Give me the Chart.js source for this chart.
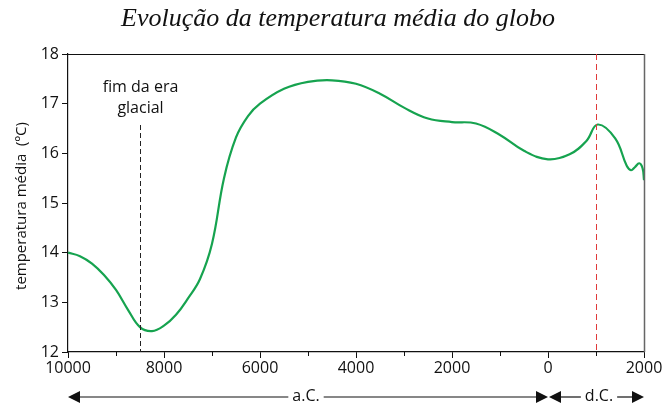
<!DOCTYPE html>
<html>
<head>
<meta charset="utf-8">
<script src="https://cdn.jsdelivr.net/npm/chart.js@4.4.1/dist/chart.umd.min.js"></script>
<style>
  body { margin: 0; background: #fff; }
  #wrap { width: 664px; height: 407px; }
</style>
</head>
<body>
<div id="wrap"><canvas id="myChart" width="664" height="407"></canvas></div>
<script>
// anos (negativo = a.C.) e temperatura media (ºC)
const years = [-10000, -9750, -9500, -9250, -9000, -8750, -8500, -8250, -8000, -7750, -7500, -7250, -7000, -6750, -6500, -6250, -6000, -5500, -5000, -4500, -4000, -3500, -3000, -2500, -2000, -1500, -1000, -500, 0, 450, 800, 1035, 1400, 1640, 1730, 1810, 1900, 1970, 2000];
const temps = [14.0, 13.93, 13.78, 13.55, 13.25, 12.85, 12.5, 12.42, 12.53, 12.75, 13.08, 13.47, 14.18, 15.5, 16.32, 16.75, 17.0, 17.3, 17.44, 17.47, 17.4, 17.2, 16.92, 16.7, 16.63, 16.6, 16.37, 16.05, 15.88, 15.98, 16.25, 16.58, 16.3, 15.75, 15.66, 15.72, 15.8, 15.7, 15.46];
const yTicks = [12, 13, 14, 15, 16, 17, 18];
const xTicks = [-10000, -8000, -6000, -4000, -2000, 0, 2000];
const xMinorTicks = [-9000, -7000, -5000, -3000, -1000, 1000];

const titleText = 'Evolução da temperatura média do globo';
const yTitle = 'temperatura média  (ºC)';
const glacialYear = -8500;
const redLineYear = 1000;

const sans = "'Open Sans', 'Noto Sans', sans-serif";

// desenha titulo, linhas tracejadas, moldura e setas
const extras = {
    id: 'extras',
    afterDraw(chart) {
        const ctx = chart.ctx;
        const x = chart.scales.x;
        const a = chart.chartArea;
        ctx.save();

        // titulo
        ctx.fillStyle = '#111';
        ctx.font = "italic 26px 'Liberation Serif', 'DejaVu Serif', serif";
        ctx.textAlign = 'center';
        ctx.textBaseline = 'middle';
        ctx.fillText(titleText, 338, 19);

        // titulo eixo y
        ctx.save();
        ctx.translate(22, 206);
        ctx.rotate(-Math.PI / 2);
        ctx.font = '15px ' + sans;
        ctx.fillText(yTitle, 0, 0);
        ctx.restore();

        // moldura topo e direita
        ctx.strokeStyle = '#111';
        ctx.lineWidth = 1;
        ctx.beginPath();
        ctx.moveTo(a.left, a.top + 0.5);
        ctx.lineTo(a.right, a.top + 0.5);
        ctx.stroke();
        ctx.strokeStyle = '#666';
        ctx.lineWidth = 1.5;
        ctx.beginPath();
        ctx.moveTo(a.right + 0.5, a.top);
        ctx.lineTo(a.right + 0.5, a.bottom);
        ctx.stroke();

        // ticks menores
        ctx.strokeStyle = '#111';
        ctx.lineWidth = 1;
        xMinorTicks.forEach(v => {
            const px = Math.round(x.getPixelForValue(v)) + 0.5;
            ctx.beginPath();
            ctx.moveTo(px, a.bottom);
            ctx.lineTo(px, a.bottom + 4);
            ctx.stroke();
        });

        // fim da era glacial
        const gx = Math.round(x.getPixelForValue(glacialYear)) + 0.5;
        ctx.setLineDash([5, 3]);
        ctx.strokeStyle = '#222';
        ctx.beginPath();
        ctx.moveTo(gx, 125);
        ctx.lineTo(gx, a.bottom);
        ctx.stroke();
        ctx.font = '16px ' + sans;
        ctx.fillStyle = '#111';
        ctx.fillText('fim da era', gx, 87);
        ctx.fillText('glacial', gx, 108);

        // linha vermelha
        const rx = Math.round(x.getPixelForValue(redLineYear)) + 0.5;
        ctx.setLineDash([6, 4]);
        ctx.strokeStyle = '#e03a3a';
        ctx.beginPath();
        ctx.moveTo(rx, a.top);
        ctx.lineTo(rx, a.bottom);
        ctx.stroke();
        ctx.setLineDash([]);

        // setas a.C. / d.C.
        const ay = 397;
        const x0 = x.getPixelForValue(-10000);
        const xz = x.getPixelForValue(0);
        const x2 = x.getPixelForValue(2000);
        ctx.strokeStyle = '#111';
        ctx.lineWidth = 1.2;
        function seg(p, q) {
            ctx.beginPath();
            ctx.moveTo(p, ay);
            ctx.lineTo(q, ay);
            ctx.stroke();
        }
        function head(tip, dir) {
            ctx.beginPath();
            ctx.moveTo(tip, ay);
            ctx.lineTo(tip + dir * 12, ay - 6);
            ctx.lineTo(tip + dir * 12, ay + 6);
            ctx.closePath();
            ctx.fill();
        }
        ctx.font = '16px ' + sans;
        const acX = 306;
        const acW = ctx.measureText('a.C.').width;
        seg(x0 + 10, acX - acW / 2 - 4);
        seg(acX + acW / 2 + 4, xz - 10);
        head(x0, 1);
        head(xz, -1);
        ctx.fillText('a.C.', acX, ay - 1);
        const dcX = 599;
        const dcW = ctx.measureText('d.C.').width;
        head(xz + 1, 1);
        head(x2, -1);
        seg(xz + 10, dcX - dcW / 2 - 4);
        seg(dcX + dcW / 2 + 4, x2 - 10);
        ctx.fillText('d.C.', dcX, ay - 1);

        ctx.restore();
    }
};

const ctx = document.getElementById('myChart').getContext('2d');
new Chart(ctx, {
    type: 'line',
    data: {
        datasets: [{
            data: years.map((yr, i) => ({ x: yr, y: temps[i] })),
            borderColor: '#16a34f',
            borderWidth: 2.2,
            pointRadius: 0,
            tension: 0.4,
            fill: false
        }]
    },
    options: {
        responsive: false,
        animation: false,
        events: [],
        layout: { padding: { top: 54, right: 20, left: 0, bottom: 0 } },
        plugins: { legend: { display: false }, tooltip: { enabled: false }, title: { display: false } },
        scales: {
            x: {
                type: 'linear',
                min: -10000,
                max: 2000,
                afterFit: s => { s.height = 55; },
                afterBuildTicks: s => { s.ticks = xTicks.map(v => ({ value: v })); },
                border: { color: '#111', width: 1.2 },
                grid: { drawOnChartArea: false, color: '#111', tickLength: 6 },
                ticks: {
                    color: '#111',
                    font: { family: sans, size: 16 },
                    padding: 1,
                    maxRotation: 0,
                    callback: v => String(Math.abs(v))
                }
            },
            y: {
                min: 12,
                max: 18,
                afterFit: s => { s.width = 68; },
                afterBuildTicks: s => { s.ticks = yTicks.map(v => ({ value: v })); },
                border: { color: '#111', width: 1.2 },
                grid: { drawOnChartArea: false, color: '#111', tickLength: 6 },
                ticks: {
                    color: '#111',
                    font: { family: sans, size: 16 },
                    padding: 3
                }
            }
        }
    },
    plugins: [extras]
});
</script>
</body>
</html>
